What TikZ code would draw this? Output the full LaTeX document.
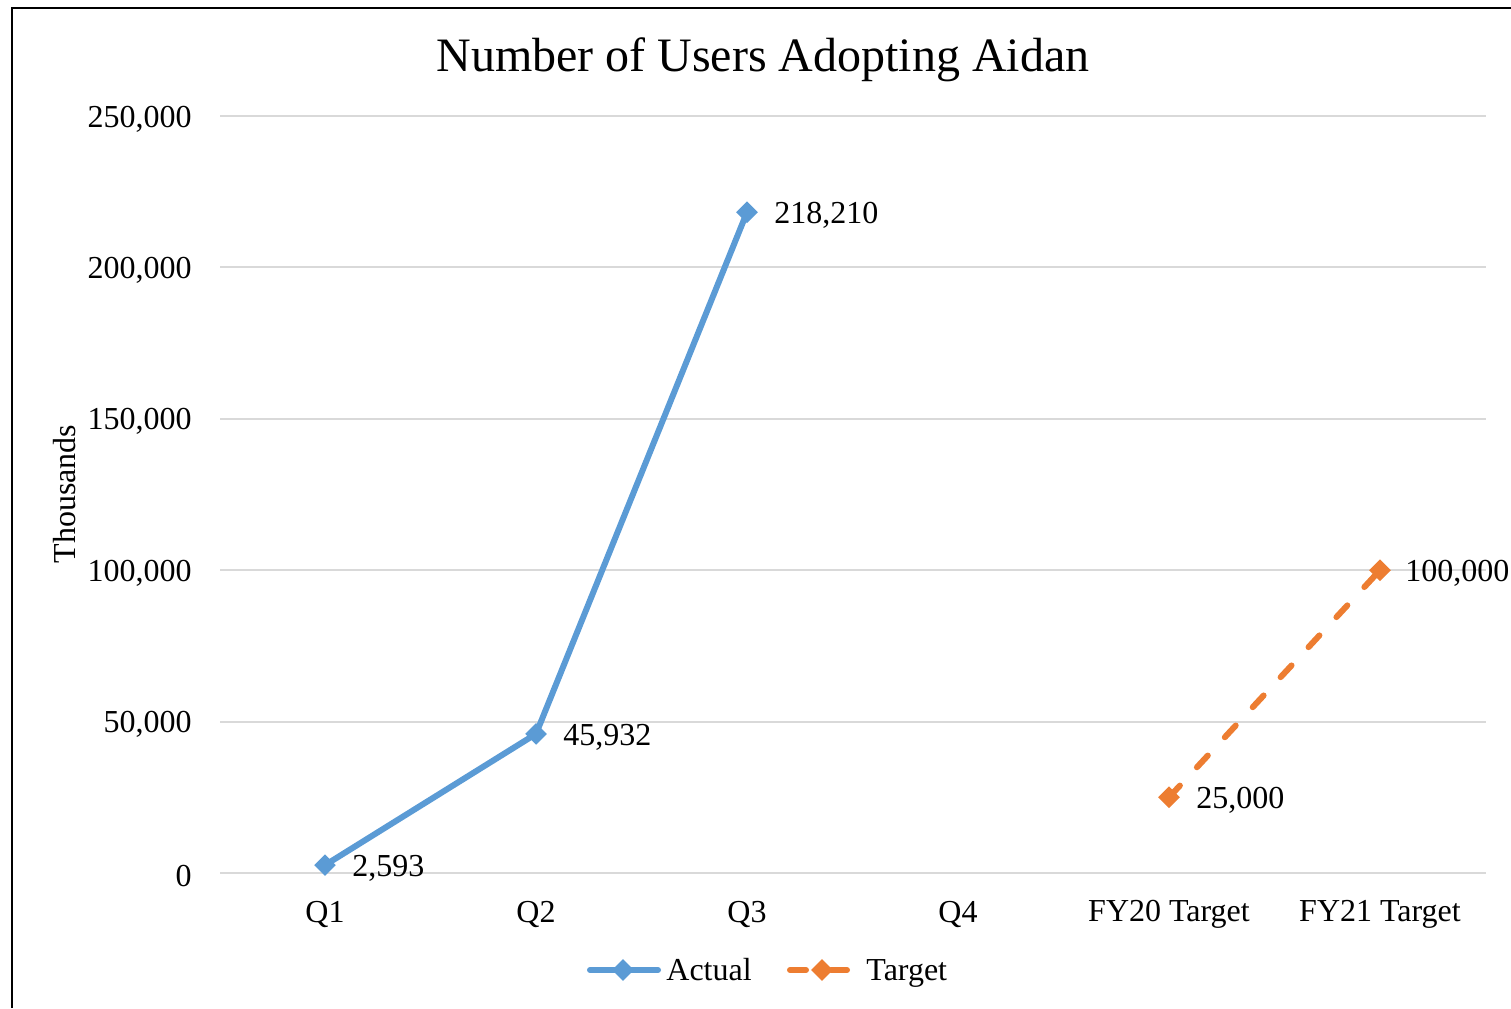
\documentclass[tikz,border=0pt]{standalone}
\usepackage{fontspec}
\setmainfont{Liberation Serif}
\usetikzlibrary{shapes.geometric,positioning}
\definecolor{actblue}{HTML}{5B9BD5}
\definecolor{tgtorange}{HTML}{ED7D31}
\definecolor{gridgray}{HTML}{D9D9D9}
\begin{document}
\begin{tikzpicture}[x=0.5pt,y=-0.5pt,font=\fontsize{16}{19}\selectfont,
    gridline/.style={gridgray,line width=1pt},
    actline/.style={actblue,line width=3pt,line cap=round,line join=round},
    tgtline/.style={tgtorange,line width=3pt,line cap=round,dash pattern=on 8pt off 12.5pt},
    actdia/.style={diamond,fill=actblue,inner sep=0pt,minimum width=11pt,minimum height=11pt},
    tgtdia/.style={diamond,fill=tgtorange,inner sep=0pt,minimum width=11pt,minimum height=11pt},
    vallbl/.style={inner sep=0pt,anchor=west,yshift=-1.5pt},
    leglbl/.style={inner sep=0pt,anchor=base west,text depth=0pt}]

\def\ybase{873}
\def\ystep{151.4}
\useasboundingbox (0,0) rectangle (1511,1008);
\draw[line width=1pt] (12,1008) -- (12,8) -- (1511,8);

% grid and axis labels
\foreach \i/\lbl in {0/0,1/{50,000},2/{100,000},3/{150,000},4/{200,000},5/{250,000}}{
    \draw[gridline] (220,\ybase-\i*\ystep) -- (1486,\ybase-\i*\ystep);
    \node[anchor=east,inner sep=0pt] (ytick\i) at (192,\ybase-\i*\ystep+3) {\lbl};
}
\foreach \x/\cat [count=\n] in {325/Q1,536/Q2,747/Q3,958/Q4,1169/FY20 Target,1380/FY21 Target}
    \node (cat\n) at (\x,914) {\cat};
\node[rotate=90] (ytitle) at (65,494) {Thousands};
\node[font=\fontsize{24}{28}\selectfont] (title) at (763,59.5) {Number of Users Adopting Aidan};

% data points
\coordinate (q1) at (325,865.1);
\coordinate (q2) at (536,733.9);
\coordinate (q3) at (747,212.2);
\coordinate (fy20) at (1169,797.3);
\coordinate (fy21) at (1380,570.2);

\draw[actline] (q1) -- (q2) -- (q3);
\draw[tgtline] (fy20) -- (fy21);
\foreach \p in {q1,q2,q3} \node[actdia] at (\p) {};
\foreach \p in {fy20,fy21} \node[tgtdia] at (\p) {};

\node[vallbl,right=13.5pt of q1] (lq1) {2,593};
\node[vallbl,right=13.5pt of q2] (lq2) {45,932};
\node[vallbl,right=13.5pt of q3] (lq3) {218,210};
\node[vallbl,right=13.5pt of fy20] (lfy20) {25,000};
\node[vallbl,right=12.5pt of fy21] (lfy21) {100,000};

% legend
\coordinate (la) at (590,970); \coordinate (lb) at (658,970);
\coordinate (lc) at (790,970); \coordinate (ld) at (852,970);
\draw[actline] (la) -- (lb);
\draw[tgtline] (lc) -- (ld);
\node[actdia] at (623,970) {};
\node[tgtdia] at (822,970) {};
\node[leglbl] (legact) at (666,980) {Actual};
\node[leglbl] (legtgt) at (866,980) {Target};

\end{tikzpicture}
\end{document}
